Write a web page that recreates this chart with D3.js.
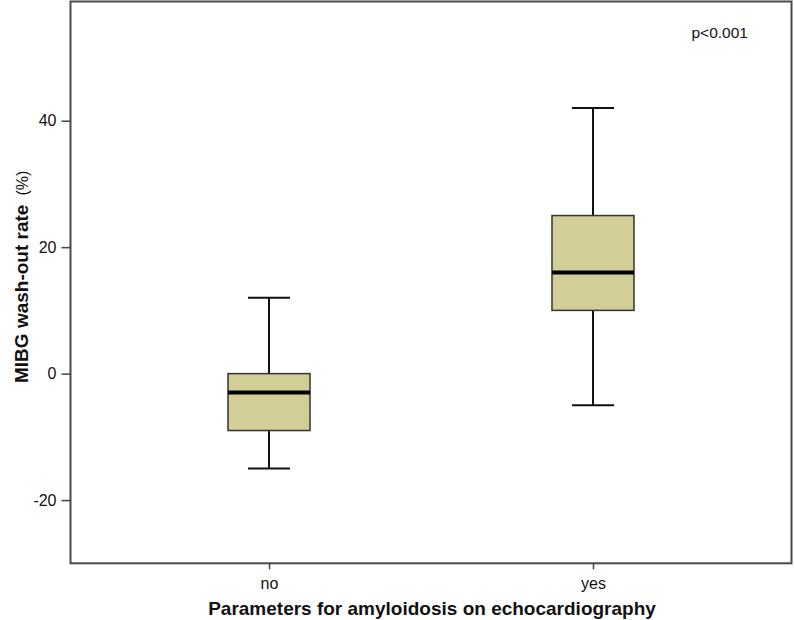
<!DOCTYPE html>
<html><head><meta charset="utf-8">
<script src="https://cdn.jsdelivr.net/npm/d3@7"></script>
<style>body{margin:0;background:#fff}svg{display:block;font-family:"Liberation Sans",Arial,sans-serif}</style>
</head><body>
<svg id="c" width="794" height="620"></svg>
<script>
const categories = ["no", "yes"];
const whiskerLow = [-15, -5];
const q1 = [-9, 10];
const median = [-3, 16];
const q3 = [0, 25];
const whiskerHigh = [12, 42];
const yTicks = [-20, 0, 20, 40];
const yLabel = "MIBG wash-out rate";
const yUnit = "(%)";
const xLabel = "Parameters for amyloidosis on echocardiography";
const pText = "p<0.001";

const svg = d3.select("#c");
const L = 70.5, R = 791.5, T = 1.5, B = 563.3;
const y = d3.scaleLinear().domain([-30, 59]).range([B, 0.6]);
const x = d3.scalePoint().domain(categories).range([L, R]).padding(0.6127);
const boxW = 82, capW = 42;
const FONT = "Liberation Sans, Arial, sans-serif";

const data = categories.map((c, i) => ({c, lo: whiskerLow[i], q1: q1[i], med: median[i], q3: q3[i], hi: whiskerHigh[i]}));

const g = svg.append("g");
data.forEach(d => {
  const cx = x(d.c);
  const ln = (x1, x2, y1, y2, w, col) => g.append("line").attr("x1", x1).attr("x2", x2).attr("y1", y1).attr("y2", y2)
      .attr("stroke", col).attr("stroke-width", w);
  ln(cx, cx, y(d.hi), y(d.q3), 2, "#111");
  ln(cx, cx, y(d.q1), y(d.lo), 2, "#111");
  ln(cx - capW/2, cx + capW/2, y(d.hi), y(d.hi), 2, "#111");
  ln(cx - capW/2, cx + capW/2, y(d.lo), y(d.lo), 2, "#111");
  g.append("rect").attr("x", cx - boxW/2).attr("width", boxW).attr("y", y(d.q3)).attr("height", y(d.q1) - y(d.q3))
    .attr("fill", "#d3ce98").attr("stroke", "#333").attr("stroke-width", 1.5);
  ln(cx - boxW/2, cx + boxW/2, y(d.med), y(d.med), 4, "#000");
});

// frame
svg.append("rect").attr("x", L).attr("y", T).attr("width", R - L).attr("height", B - T)
  .attr("fill", "none").attr("stroke", "#4a4a4a").attr("stroke-width", 2);

// y axis
const ya = svg.append("g").attr("transform", `translate(${L},0)`)
  .call(d3.axisLeft(y).tickValues(yTicks).tickSize(9).tickPadding(5).tickFormat(d => String(d)));
ya.select(".domain").remove();
ya.selectAll(".tick line").attr("stroke", "#444").attr("stroke-width", 1.5);
ya.selectAll(".tick text").attr("fill", "#111").style("font-size", "16px").style("font-family", FONT);

// x axis
const xa = svg.append("g").attr("transform", `translate(0,${B})`)
  .call(d3.axisBottom(x).tickSize(6).tickPadding(8));
xa.select(".domain").remove();
xa.selectAll(".tick line").attr("stroke", "#444").attr("stroke-width", 1.5);
xa.selectAll(".tick text").attr("fill", "#111").style("font-size", "16px").style("font-family", FONT);

// labels
svg.append("text").attr("x", 432).attr("y", 615).attr("text-anchor", "middle")
  .style("font-size", "19px").style("font-weight", "bold").attr("fill", "#111").text(xLabel);

const yl = svg.append("text").attr("transform", "translate(28,383) rotate(-90)").attr("text-anchor", "start")
  .style("font-size", "19px").attr("fill", "#111");
yl.append("tspan").style("font-weight", "bold").text(yLabel);
yl.append("tspan").attr("dx", 9).style("font-size", "16px").text(yUnit);

svg.append("text").attr("x", 691.5).attr("y", 38).style("font-size", "15.5px").attr("fill", "#111").text(pText);
</script>
</body></html>
